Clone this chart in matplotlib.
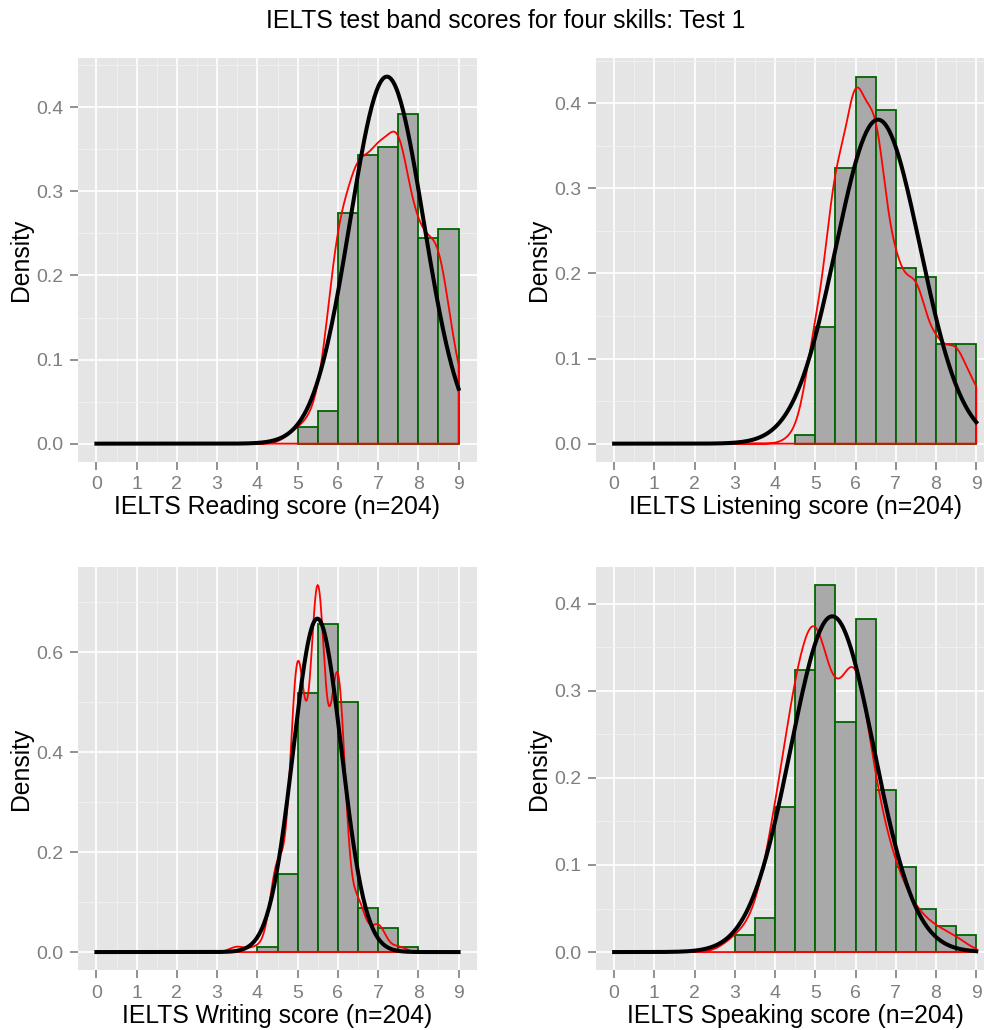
import numpy as np
import matplotlib.pyplot as plt
from matplotlib.ticker import MultipleLocator, FormatStrFormatter

plt.rcParams['font.family'] = ['Liberation Sans', 'DejaVu Sans']

# band scores and number of candidates at each score (n=204 per skill)
bands = [3.0, 3.5, 4.0, 4.5, 5.0, 5.5, 6.0, 6.5, 7.0, 7.5, 8.0, 8.5, 9.0]
reading_counts = [0, 0, 0, 0, 2, 4, 28, 35, 36, 40, 25, 26, 8]
listening_counts = [0, 0, 0, 1, 14, 33, 44, 40, 21, 20, 12, 12, 7]
writing_counts = [0, 1, 1, 16, 53, 67, 51, 9, 5, 1, 0, 0, 0]
speaking_counts = [2, 4, 17, 33, 43, 27, 39, 19, 10, 5, 3, 2, 0]

skills = ["Reading", "Listening", "Writing", "Speaking"]
# first histogram bin shown in each panel (bars stop at 9)
hist_min = [5.0, 4.5, 4.0, 3.0]
y_step = [0.1, 0.1, 0.2, 0.1]

all_counts = [reading_counts, listening_counts, writing_counts, speaking_counts]

W, H = 984, 1030
# panel boxes in pixels: left, top
panel_pos = [(78.3, 58.3), (596.0, 58.3), (78.3, 566.7), (596.0, 566.7)]
PW, PH = 398.4, 403.7

GREY50 = '#7F7F7F'


def bw_nrd0(x):
    sd = np.std(x, ddof=1)
    iqr = np.subtract(*np.percentile(x, [75, 25]))
    return 0.9 * min(sd, iqr / 1.34) * len(x) ** -0.2


def kde(x, grid, bw):
    z = (grid[:, None] - x[None, :]) / bw
    return np.exp(-0.5 * z**2).sum(axis=1) / (len(x) * bw * np.sqrt(2 * np.pi))


def dnorm(grid, mu, sd):
    return np.exp(-0.5 * ((grid - mu) / sd) ** 2) / (sd * np.sqrt(2 * np.pi))


fig = plt.figure(figsize=(W / 100, H / 100), dpi=100)

for i, skill in enumerate(skills):
    counts = np.array(all_counts[i])
    b = np.array(bands)
    scores = np.repeat(b, counts)
    n = len(scores)

    left, top = panel_pos[i]
    ax = fig.add_axes([left / W, 1 - (top + PH) / H, PW / W, PH / H])
    ax.set_facecolor('#E5E5E5')
    for s in ax.spines.values():
        s.set_visible(False)

    # histogram, binwidth 0.5, density scale
    mask = (b >= hist_min[i]) & (b < 9) & (counts > 0)
    dens = counts / (n * 0.5)
    ax.bar(b[mask], dens[mask], width=0.5, align='edge', color='#A9A9A9',
           edgecolor='#006400', linewidth=1.3, zorder=2)

    # kernel density (red) over 0..9
    grid = np.linspace(0, 9, 512)
    kd = kde(scores, grid, bw_nrd0(scores))
    px = np.concatenate([[0], grid, [9, 0]])
    py = np.concatenate([[0], kd, [0, 0]])
    ax.plot(px, py, color='red', linewidth=1.3, zorder=3)

    # normal curve (black)
    g2 = np.linspace(0, 9, 301)
    nd = dnorm(g2, scores.mean(), scores.std(ddof=1))
    ax.plot(g2, nd, color='black', linewidth=2.9, zorder=4)

    ymax = max(dens[mask].max(), kd.max(), nd.max())
    ax.set_ylim(-0.05 * ymax, 1.05 * ymax)
    ax.set_xlim(-0.45, 9.45)

    ax.xaxis.set_major_locator(MultipleLocator(1))
    ax.xaxis.set_minor_locator(MultipleLocator(0.5))
    ax.yaxis.set_major_locator(MultipleLocator(y_step[i]))
    ax.yaxis.set_minor_locator(MultipleLocator(y_step[i] / 2))
    ax.xaxis.set_major_formatter(FormatStrFormatter('%d'))
    ax.yaxis.set_major_formatter(FormatStrFormatter('%.1f'))

    ax.grid(which='major', color='white', linewidth=1.25, zorder=0)
    ax.grid(which='minor', color='#F2F2F2', linewidth=0.6, zorder=0)
    ax.set_axisbelow(True)

    ax.tick_params(which='major', length=5.8, width=1.2, color=GREY50,
                   labelcolor=GREY50, labelsize=14, pad=4.6)
    ax.tick_params(which='minor', length=0)

    cx = left + PW / 2
    fig.text(cx / W, 1 - (top + 456.0) / H,
             f"IELTS {skill} score (n={n})", ha='center', va='baseline',
             fontsize=17.8)
    fig.text((left - 49.9) / W, 1 - (top + 201.7) / H, "Density",
             rotation=90, rotation_mode='anchor', ha='center', va='baseline',
             fontsize=17.8)

fig.text(505.5 / W, 1 - 28.3 / H, "IELTS test band scores for four skills: Test 1",
         ha='center', va='baseline', fontsize=17.8)

fig.savefig("out.png", dpi=100)
